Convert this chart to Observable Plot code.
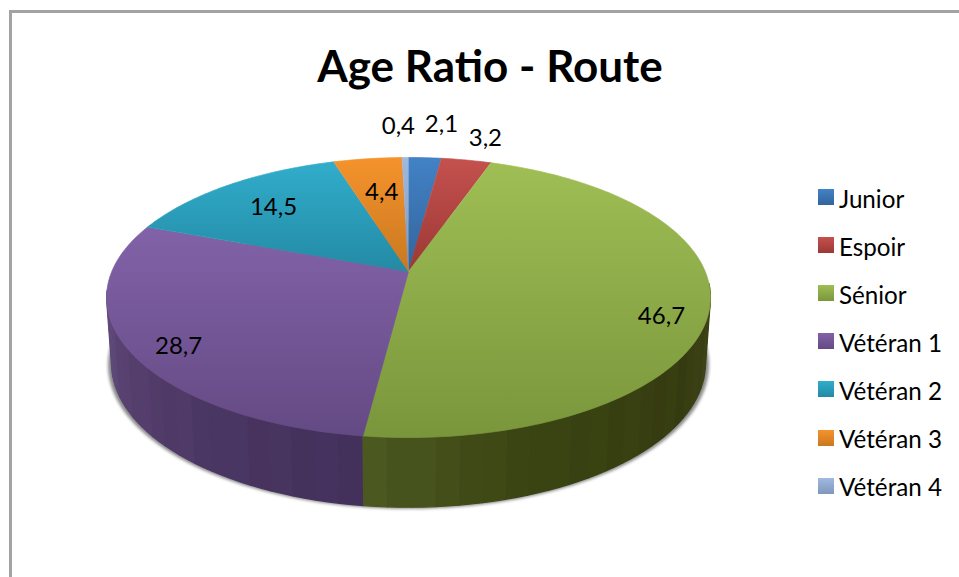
<!DOCTYPE html>
<html><head><meta charset="utf-8">
<script src="https://cdn.jsdelivr.net/npm/d3@7"></script>
<script src="https://cdn.jsdelivr.net/npm/@observablehq/plot@0.6"></script>
<style>
html,body{margin:0;padding:0;background:#fff;overflow:hidden}
#chart{position:relative;width:959px;height:577px;overflow:hidden;font-family:Lato,sans-serif;color:#000}
#frameL{position:absolute;left:9px;top:10px;width:3px;bottom:0;background:#a3a3a3}
#frameT{position:absolute;left:9px;top:10px;right:0;height:3px;background:#a3a3a3}
#title{position:relative;height:100px;box-sizing:border-box;padding:37px 0 0 21px;text-align:center;font-size:44px;line-height:56px;font-weight:700}
#plot svg{display:block;background:transparent}
#legend{position:absolute;left:818px;top:174px}
.row{display:flex;align-items:center;height:48.1px;font-size:24.2px}
.sw{width:16px;height:16px;margin-right:5px;position:relative;top:-1px}
</style></head>
<body>
<div id="chart">
  <div id="frameL"></div><div id="frameT"></div>
  <div id="title">Age Ratio - Route</div>
  <div id="plot"></div>
  <div id="legend"></div>
</div>
<script>
// --- data ---
const categories = ["Junior","Espoir","Sénior","Vétéran 1","Vétéran 2","Vétéran 3","Vétéran 4"];
const values = [2.1,3.2,46.7,28.7,14.5,4.4,0.4];
const valueLabels = ["2,1","3,2","46,7","28,7","14,5","4,4","0,4"];
// gradient ends of each slice's top face
const topColors = ["#4282c6","#c4514e","#9fbe54","#8262a8","#31adcb","#f5932c","#a0b9e0"];
const bottomColors = ["#32649b","#9c3835","#7a963c","#644a84","#238aa5","#c97820","#7f97ba"];
// wall shades by angle (only the two front slices show a wall)
const wallStops = {
  2:[[95,"#40461a"],[125,"#363c10"],[160,"#3a4412"],[187.3,"#4b5820"]],
  3:[[187.2,"#42305a"],[215,"#4b3763"],[240,"#57406f"],[262,"#645081"]]
};
const wallBands = [0,.02,-.015,.012,-.02,.015,0,-.012,.02,-.01];
// label offsets (px) from the slice's rim midpoint
const labelOffsets = [[16.5,-33],[19,-21.6],[-48.7,13],[51,-3],[44.6,22.6],[14,34],[-7,-31]];

// --- camera: a tilted disc seen in perspective ---
const W=959, H=477, T=100;
const cx=408, apexY=271, B=296.7, A=135.2, k=0.1857;
const wall={sx:0.9835, drop:-0.481, sy:1.028};
const rim=(deg)=>{const t=deg*Math.PI/180,s=1/(1+k*Math.cos(t));return [Math.sin(t)*s,Math.cos(t)*s];};
const low=(deg)=>{const [x,y]=rim(deg);return [x*wall.sx,wall.drop+y*wall.sy];};

// cumulative angles
let acc=0;
const slices=values.map((v,i)=>{const a0=acc*3.6;acc+=v;return {i,a0,a1:acc*3.6,mid:(a0+acc*3.6)/2};});
const arcSteps=(a0,a1,n)=>d3.range(n+1).map(j=>a0+(a1-a0)*j/n);

// top faces
const topRows=slices.map(s=>{
  const pts=[[0,0],...arcSteps(s.a0,s.a1,Math.max(4,Math.ceil(s.a1-s.a0))).map(rim)];
  return pts.map(([x,y])=>({x,y}));
});

// walls: narrow strips, rear to front
const strips=[];
for(const s of slices){
  const stops=wallStops[s.i]; if(!stops) continue;
  const sc=d3.scaleLinear().domain(stops.map(d=>d[0])).range(stops.map(d=>d[1])).clamp(true);
  const from=Math.max(s.a0,stops[0][0]), to=Math.min(s.a1,stops[stops.length-1][0]);
  const n=Math.ceil((to-from)/4);
  for(let j=0;j<n;j++){
    const a=from+(to-from)*j/n,b=from+(to-from)*(j+1)/n;
    const c=d3.hsl(sc((a+b)/2)); c.l*=1+wallBands[j%wallBands.length];
    const color=c.formatHex(), id=s.i+"-"+j;
    const seq=[...arcSteps(a,b,2).map(rim),...arcSteps(b,a,2).map(low)];
    const depth=Math.cos((a+b)/2*Math.PI/180);
    strips.push({depth,rows:seq.map(([x,y])=>({x,y,id,color}))});
  }
}
strips.sort((p,q)=>q.depth-p.depth);
const stripRows=strips.flatMap(s=>s.rows);
const shadowRows=arcSteps(0,360,180).map(low).map(([x,y])=>({x:x*1.012,y:y-0.012}));

const defs=()=>{
  const d=d3.create("svg:defs");
  categories.forEach((_,i)=>{
    const g=d.append("linearGradient").attr("id","g"+i).attr("x1",0).attr("y1",0).attr("x2",0).attr("y2",1);
    g.append("stop").attr("offset",0).attr("stop-color",topColors[i]);
    g.append("stop").attr("offset",1).attr("stop-color",bottomColors[i]);
  });
  return d.node();
};

const labels=slices.map(s=>{const [x,y]=rim(s.mid);return {x,y,text:valueLabels[s.i],dx:labelOffsets[s.i][0],dy:labelOffsets[s.i][1]};});

const plot=Plot.plot({
  width:W,height:H,margin:0,
  style:{background:"transparent"},
  x:{domain:[-cx/B,(W-cx)/B],range:[0,W],axis:null},
  y:{domain:[(apexY-T)/A,(apexY-T-H)/A],range:[0,H],axis:null},
  color:{type:"identity"},
  marks:[
    defs,
    Plot.line(shadowRows,{x:"x",y:"y",fill:"#8c8c8c",stroke:"none",imageFilter:"blur(1.6px)"}),
    Plot.line(stripRows,{x:"x",y:"y",z:"id",fill:"color",stroke:"color",strokeWidth:1.2,curve:"linear"}),
    ...topRows.map((rows,i)=>Plot.line(rows,{x:"x",y:"y",fill:`url(#g${i})`,stroke:`url(#g${i})`,strokeWidth:0.7,curve:"linear"})),
    ...labels.map(l=>Plot.text([l],{x:"x",y:"y",text:"text",dx:l.dx,dy:l.dy,fontSize:24,fill:"#000",fontFamily:"Lato"}))
  ]
});
document.getElementById("plot").appendChild(plot);

// legend
const lg=d3.select("#legend");
categories.forEach((c,i)=>{
  const r=lg.append("div").attr("class","row");
  r.append("div").attr("class","sw").style("background",`linear-gradient(${topColors[i]},${bottomColors[i]})`);
  r.append("span").text(c);
});
</script>
</body></html>
